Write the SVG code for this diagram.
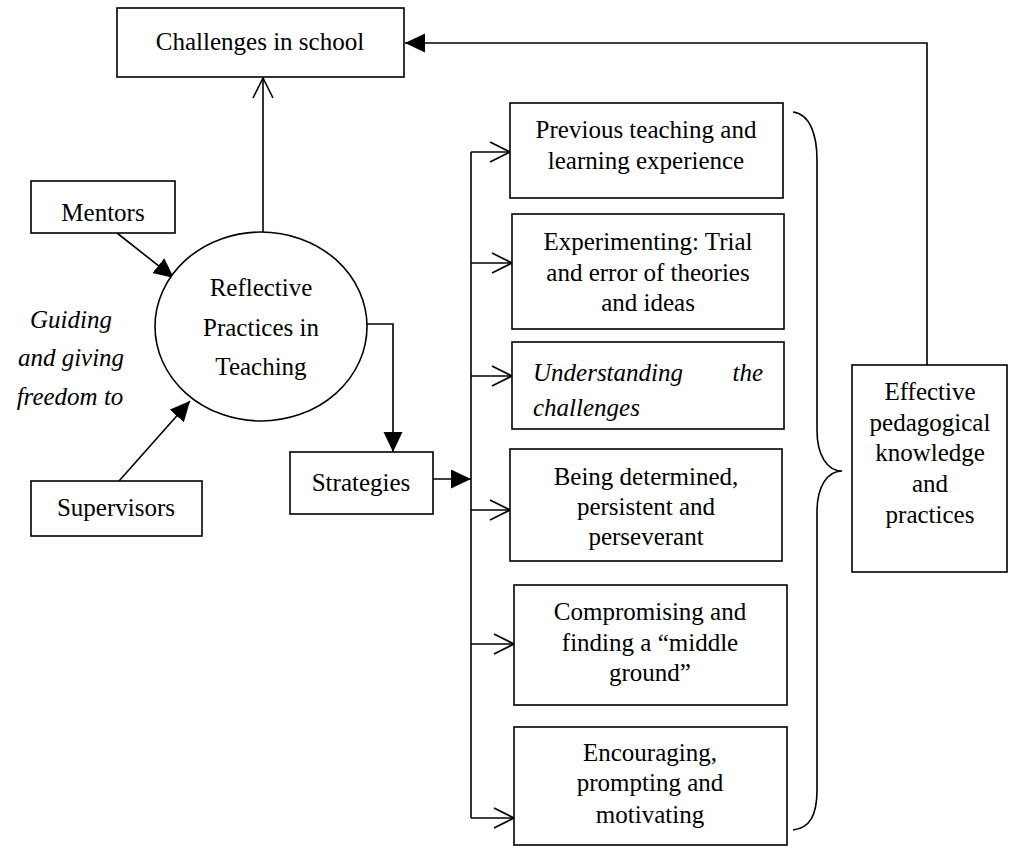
<svg xmlns="http://www.w3.org/2000/svg" width="1009" height="846" viewBox="0 0 1009 846">
<defs>
<style>
.box{fill:#fff;stroke:#000;stroke-width:1.6}
.t{font-family:"Liberation Serif","Times New Roman",serif;font-size:25px;fill:#000;text-anchor:middle}
.i{font-style:italic}
.s{text-anchor:start}
.e{text-anchor:end}
.ln{fill:none;stroke:#000;stroke-width:1.6}
</style>
<marker id="fa" markerUnits="userSpaceOnUse" markerWidth="22" markerHeight="20" refX="20" refY="9.5" orient="auto">
<path d="M0,0 L20,9.5 L0,19 z" fill="#000"/>
</marker>
<marker id="oa" markerUnits="userSpaceOnUse" markerWidth="24" markerHeight="24" refX="21" refY="11" orient="auto">
<path d="M1,1 L21,11 L1,21" fill="none" stroke="#000" stroke-width="1.6"/>
</marker>
</defs>
<rect width="1009" height="846" fill="#fff"/>

<g id="connectors">
<path class="ln" d="M263,232 V78" marker-end="url(#oa)"/>
<path class="ln" d="M927,365 V43 H405" marker-end="url(#fa)"/>
<path class="ln" d="M117,233 L174,278" marker-end="url(#fa)"/>
<path class="ln" d="M119,481 L190,401" marker-end="url(#fa)"/>
<path class="ln" d="M367,324 H393 V452" marker-end="url(#fa)"/>
<path class="ln" d="M433,479 H471" marker-end="url(#fa)"/>
<path class="ln" d="M471,152 V818"/>
<path class="ln" d="M471,152 H510" marker-end="url(#oa)"/>
<path class="ln" d="M471,263 H512" marker-end="url(#oa)"/>
<path class="ln" d="M471,376 H512" marker-end="url(#oa)"/>
<path class="ln" d="M471,510 H510" marker-end="url(#oa)"/>
<path class="ln" d="M471,644 H514" marker-end="url(#oa)"/>
<path class="ln" d="M471,818 H514" marker-end="url(#oa)"/>
<path id="brace" class="ln" d="M793,112 C810,114 817,135 817,160 V430 C817,455 827,471 842,471 C827,471 817,487 817,512 V790 C817,815 810,828 793,830"/>
</g>

<g id="challenges">
<rect class="box" x="117" y="8" width="287" height="69"/>
<text class="t" x="260" y="50">Challenges in school</text>
</g>

<g id="mentors">
<rect class="box" x="31" y="181" width="144" height="52"/>
<text class="t" x="103" y="221">Mentors</text>
</g>

<g id="reflective">
<ellipse class="box" cx="261" cy="326.5" rx="106" ry="94.5"/>
<text class="t" x="261" y="296">Reflective</text>
<text class="t" x="261" y="336">Practices in</text>
<text class="t" x="261" y="375">Teaching</text>
</g>

<g id="guiding">
<text class="t i" x="71" y="328">Guiding</text>
<text class="t i" x="71" y="366">and giving</text>
<text class="t i" x="70" y="405">freedom to</text>
</g>

<g id="supervisors">
<rect class="box" x="31" y="481" width="171" height="55"/>
<text class="t" x="116" y="516">Supervisors</text>
</g>

<g id="strategies">
<rect class="box" x="290" y="452" width="143" height="62"/>
<text class="t" x="361" y="491">Strategies</text>
</g>

<g id="previous">
<rect class="box" x="510" y="103" width="273" height="95"/>
<text class="t" x="646" y="138">Previous teaching and</text>
<text class="t" x="646" y="169">learning experience</text>
</g>

<g id="experimenting">
<rect class="box" x="512" y="214" width="272" height="115"/>
<text class="t" x="648" y="250">Experimenting: Trial</text>
<text class="t" x="648" y="281">and error of theories</text>
<text class="t" x="648" y="311">and ideas</text>
</g>

<g id="understanding">
<rect class="box" x="512" y="342" width="272" height="87"/>
<text class="t i s" x="533" y="381">Understanding</text>
<text class="t i e" x="763" y="381">the</text>
<text class="t i s" x="533" y="416">challenges</text>
</g>

<g id="determined">
<rect class="box" x="510" y="449" width="272" height="112"/>
<text class="t" x="646" y="485">Being determined,</text>
<text class="t" x="646" y="515">persistent and</text>
<text class="t" x="646" y="545">perseverant</text>
</g>

<g id="compromising">
<rect class="box" x="514" y="585" width="273" height="120"/>
<text class="t" x="650" y="620">Compromising and</text>
<text class="t" x="650" y="651">finding a “middle</text>
<text class="t" x="650" y="681">ground”</text>
</g>

<g id="encouraging">
<rect class="box" x="514" y="727" width="273" height="118"/>
<text class="t" x="650" y="761">Encouraging,</text>
<text class="t" x="650" y="791">prompting and</text>
<text class="t" x="650" y="823">motivating</text>
</g>

<g id="effective">
<rect class="box" x="852" y="365" width="155" height="207"/>
<text class="t" x="930" y="400">Effective</text>
<text class="t" x="930" y="431">pedagogical</text>
<text class="t" x="930" y="461">knowledge</text>
<text class="t" x="930" y="492">and</text>
<text class="t" x="930" y="523">practices</text>
</g>
</svg>
